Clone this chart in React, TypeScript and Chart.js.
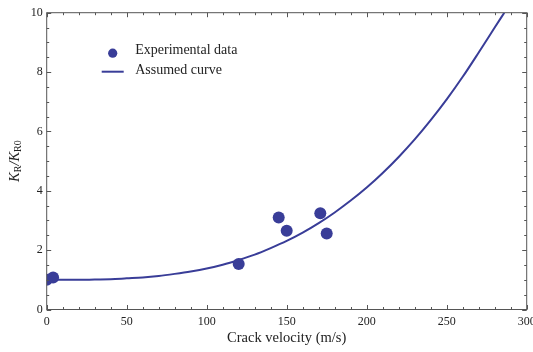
import React, { useEffect, useRef } from "react";
import { Chart, registerables } from "chart.js";

Chart.register(...registerables);

// Experimental data (crack velocity m/s, K_R/K_R0)
const expVelocity = [0, 4, 120, 145, 150, 171, 175];
const expRatio = [1.0, 1.08, 1.53, 3.1, 2.65, 3.24, 2.56];

// Assumed curve
const curveVelocity = [0, 10, 20, 30, 40, 50, 60, 70, 80, 90, 100, 110, 120, 130, 140, 150, 160, 170, 180, 190, 200, 210, 220, 230, 240, 250, 260, 270, 280, 286];
const curveRatio = [1.0, 1.0, 1.0, 1.01, 1.02, 1.05, 1.08, 1.13, 1.2, 1.28, 1.38, 1.51, 1.67, 1.85, 2.07, 2.31, 2.59, 2.91, 3.27, 3.67, 4.11, 4.6, 5.14, 5.73, 6.38, 7.08, 7.84, 8.66, 9.5, 10.0];

// Axis ticks
const xTickLabels = [0, 50, 100, 150, 200, 250, 300];
const yTickLabels = [0, 2, 4, 6, 8, 10];

const SERIF = "'Liberation Serif', 'Times New Roman', serif";
const BLUE = "rgb(57,61,152)";
const FRAME = "#555555";
const TEXT = "#222222";

const framePlugin = {
  id: "frameTicks",
  afterDatasetsDraw(chart: any) {
    const { ctx, chartArea, scales } = chart;
    const { left, right, top, bottom } = chartArea;
    const xs = scales.x;
    const ys = scales.y;
    ctx.save();
    ctx.strokeStyle = FRAME;
    ctx.lineWidth = 1;
    ctx.strokeRect(left, top, right - left, bottom - top);
    ctx.beginPath();
    const xMin = xTickLabels[0];
    const xMax = xTickLabels[xTickLabels.length - 1];
    for (let v = xMin; v <= xMax + 1e-9; v += 10) {
      const px = Math.round(xs.getPixelForValue(v)) + 0.5;
      const major = xTickLabels.includes(v);
      const len = major ? 4.5 : 2.5;
      ctx.moveTo(px, bottom);
      ctx.lineTo(px, bottom - len);
      ctx.moveTo(px, top);
      ctx.lineTo(px, top + len);
    }
    const yMin = yTickLabels[0];
    const yMax = yTickLabels[yTickLabels.length - 1];
    for (let v = yMin; v <= yMax + 1e-9; v += 0.5) {
      const py = Math.round(ys.getPixelForValue(v)) + 0.5;
      const major = yTickLabels.includes(v);
      const len = major ? 4.5 : 2.5;
      ctx.moveTo(left, py);
      ctx.lineTo(left + len, py);
      ctx.moveTo(right, py);
      ctx.lineTo(right - len, py);
    }
    ctx.stroke();
    ctx.restore();
  },
  afterDraw(chart: any) {
    const { ctx, chartArea } = chart;
    const { left, top, bottom } = chartArea;
    ctx.save();
    // Y-axis title: K_R / K_R0
    const big = 14.5;
    const small = 10;
    const parts = [
      { t: "K", f: `italic ${big}px ${SERIF}`, dy: 0 },
      { t: "R", f: `${small}px ${SERIF}`, dy: 2.5 },
      { t: "/", f: `italic ${big}px ${SERIF}`, dy: 0 },
      { t: "K", f: `italic ${big}px ${SERIF}`, dy: 0 },
      { t: "R0", f: `${small}px ${SERIF}`, dy: 2.5 },
    ];
    let total = 0;
    const widths: number[] = [];
    for (const p of parts) {
      ctx.font = p.f;
      const w = ctx.measureText(p.t).width;
      widths.push(w);
      total += w;
    }
    ctx.translate(14, (top + bottom) / 2);
    ctx.rotate(-Math.PI / 2);
    ctx.fillStyle = TEXT;
    ctx.textBaseline = "alphabetic";
    let cx = -total / 2;
    parts.forEach((p, i) => {
      ctx.font = p.f;
      ctx.fillText(p.t, cx, 4.5 + p.dy);
      cx += widths[i];
    });
    ctx.restore();

    // Legend inside plot area
    ctx.save();
    const lx = left + 66;
    const ly1 = top + 40;
    const ly2 = top + 59;
    ctx.fillStyle = BLUE;
    ctx.beginPath();
    ctx.arc(lx, ly1 + 0.5, 4.6, 0, Math.PI * 2);
    ctx.fill();
    ctx.strokeStyle = BLUE;
    ctx.lineWidth = 2;
    ctx.beginPath();
    ctx.moveTo(lx - 11, ly2);
    ctx.lineTo(lx + 11, ly2);
    ctx.stroke();
    ctx.fillStyle = TEXT;
    ctx.font = `14px ${SERIF}`;
    ctx.textBaseline = "middle";
    ctx.textAlign = "left";
    ctx.fillText("Experimental data", lx + 22.5, ly1 - 2);
    ctx.fillText("Assumed curve", lx + 22.5, ly2 - 1.7);
    ctx.restore();
  },
};

export default function App() {
  const ref = useRef<HTMLCanvasElement | null>(null);
  useEffect(() => {
    if (!ref.current) return;
    const chart = new Chart(ref.current, {
      type: "scatter",
      data: {
        datasets: [
          {
            type: "scatter",
            label: "Experimental data",
            data: expVelocity.map((v, i) => ({ x: v, y: expRatio[i] })),
            backgroundColor: BLUE,
            borderColor: BLUE,
            pointRadius: 6,
            pointBorderWidth: 0,
            clip: 0,
            order: 1,
          } as any,
          {
            type: "line",
            label: "Assumed curve",
            data: curveVelocity.map((v, i) => ({ x: v, y: curveRatio[i] })),
            borderColor: BLUE,
            backgroundColor: BLUE,
            borderWidth: 2,
            pointRadius: 0,
            showLine: true,
            fill: false,
            cubicInterpolationMode: "monotone",
            clip: 0,
            order: 2,
          } as any,
        ],
      },
      options: {
        responsive: false,
        maintainAspectRatio: false,
        animation: false,
        devicePixelRatio: 1,
        layout: { padding: { top: 12.7, right: 6.3, left: 0, bottom: 0 } },
        plugins: {
          legend: { display: false },
          tooltip: { enabled: false },
        },
        scales: {
          x: {
            type: "linear",
            min: 0,
            max: 300,
            afterBuildTicks: (s: any) => {
              s.ticks = xTickLabels.map((v) => ({ value: v }));
            },
            afterFit: (s: any) => {
              s.height = 42.5;
              s.paddingLeft = 0;
              s.paddingRight = 0;
            },
            ticks: {
              font: { family: SERIF, size: 12 },
              color: TEXT,
              padding: 5,
              maxRotation: 0,
            },
            grid: { display: false, drawTicks: false },
            border: { display: false },
            title: {
              display: true,
              text: "Crack velocity (m/s)",
              font: { family: SERIF, size: 14.5 },
              color: TEXT,
              padding: { top: 0, bottom: 5 },
            },
          },
          y: {
            type: "linear",
            min: 0,
            max: 10,
            afterBuildTicks: (s: any) => {
              s.ticks = yTickLabels.map((v) => ({ value: v }));
            },
            afterFit: (s: any) => {
              s.width = 46.7;
              s.paddingTop = 0;
              s.paddingBottom = 0;
            },
            ticks: {
              font: { family: SERIF, size: 12 },
              color: TEXT,
              padding: 4,
            },
            grid: { display: false, drawTicks: false },
            border: { display: false },
          },
        },
      },
      plugins: [framePlugin],
    });
    return () => chart.destroy();
  }, []);
  return (
    <div style={{ position: "absolute", left: 0, top: 0, width: 533, height: 352, background: "#fff" }}>
      <canvas ref={ref} width={533} height={352} style={{ display: "block" }} />
    </div>
  );
}
